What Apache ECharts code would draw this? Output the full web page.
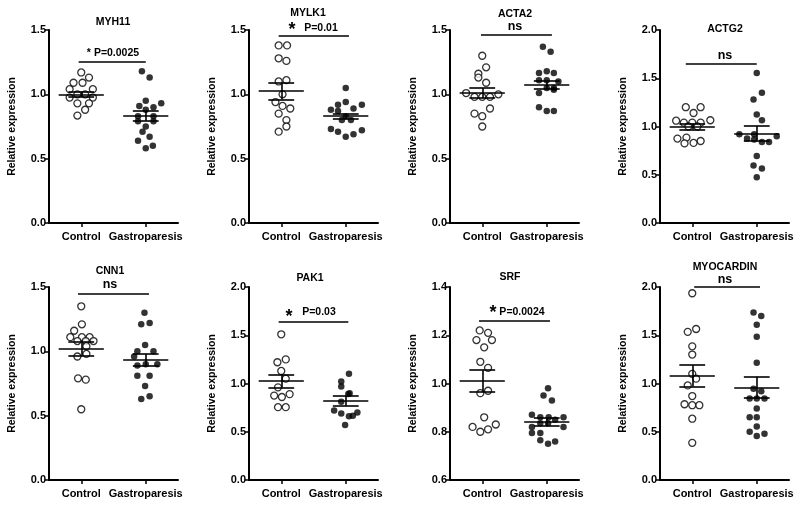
<!DOCTYPE html>
<html>
<head>
<meta charset="utf-8">
<title>Relative expression - Control vs Gastroparesis</title>
<style>
  html, body { margin: 0; padding: 0; background: #fff; }
  #main { width: 800px; height: 505px; }
</style>
</head>
<body>
<div id="main"></div>
<script src="https://cdn.jsdelivr.net/npm/echarts@6/dist/echarts.min.js"></script>
<script>
var groups = ['Control', 'Gastroparesis'];
var genes = ['MYH11', 'MYLK1', 'ACTA2', 'ACTG2', 'CNN1', 'PAK1', 'SRF', 'MYOCARDIN'];
var yMin = [0, 0, 0, 0, 0, 0, 0.6, 0];
var yMax = [1.5, 1.5, 1.5, 2, 1.5, 2, 1.4, 2];
var yStep = [0.5, 0.5, 0.5, 0.5, 0.5, 0.5, 0.2, 0.5];

// points: [jitter around the group, relative expression]
var myh11Ctrl = [[0,1.17],[0.12,1.13],[-0.12,1.09],[0.02,1.09],[-0.18,1.04],[0.18,1.04],[-0.06,1.0],[0.06,1.0],[-0.18,0.975],[0.18,0.975],[-0.06,0.93],[0.12,0.93],[0.06,0.88],[-0.06,0.835]];
var myh11Gast = [[-0.06,1.18],[0.06,1.13],[0,0.95],[-0.1,0.91],[0.24,0.93],[0.12,0.9],[0,0.88],[-0.12,0.83],[0.12,0.83],[-0.12,0.79],[0.12,0.79],[0,0.75],[-0.05,0.71],[0.06,0.67],[-0.12,0.64],[0.11,0.6],[0,0.58]];
var mylk1Ctrl = [[-0.04,1.38],[0.09,1.38],[-0.04,1.28],[0.08,1.26],[-0.04,1.1],[0.08,1.11],[0.02,1.0],[-0.09,0.94],[0.02,0.91],[0.14,0.89],[-0.04,0.85],[0.08,0.8],[0.08,0.75],[-0.04,0.71]];
var mylk1Gast = [[0,1.05],[-0.12,0.92],[0,0.94],[0.25,0.92],[-0.23,0.88],[-0.12,0.87],[0.12,0.89],[0,0.83],[-0.06,0.8],[0.08,0.8],[-0.23,0.73],[-0.12,0.71],[0.25,0.72],[0,0.67],[0.12,0.69]];
var acta2Ctrl = [[0,1.3],[0.06,1.21],[-0.06,1.16],[-0.06,1.13],[0.06,1.09],[-0.25,1.01],[-0.12,0.98],[0,0.98],[0.12,0.98],[0.25,1.0],[0.12,0.89],[-0.12,0.85],[0,0.83],[0,0.75]];
var acta2Gast = [[-0.06,1.37],[0.06,1.33],[0,1.18],[0.11,1.165],[-0.12,1.165],[-0.12,1.11],[0,1.11],[0.18,1.1],[0,1.05],[0.11,1.05],[-0.12,1.01],[0.11,1.035],[-0.12,0.9],[0,0.87],[0.11,0.87]];
var actg2Ctrl = [[-0.1,1.2],[0.13,1.2],[0.02,1.14],[-0.25,1.06],[-0.13,1.04],[0,1.04],[0.13,1.04],[0.28,1.065],[-0.06,1.0],[0.08,1.0],[-0.23,0.875],[-0.09,0.885],[0.13,0.85],[-0.12,0.825],[0.02,0.83]];
var actg2Gast = [[0,1.555],[0.08,1.35],[-0.05,1.28],[0,1.125],[0.08,1.065],[-0.27,0.92],[-0.04,0.92],[0.31,0.9],[-0.15,0.875],[-0.04,0.865],[0.08,0.84],[0.19,0.84],[0,0.695],[-0.05,0.595],[0.08,0.565],[0,0.475]];
var cnn1Ctrl = [[0,1.35],[0.01,1.21],[-0.11,1.16],[-0.17,1.11],[0.01,1.11],[0.13,1.11],[-0.06,1.08],[0.07,1.08],[0.19,1.08],[0.08,1.04],[-0.06,0.96],[0.08,0.98],[-0.05,0.79],[0.07,0.78],[0,0.55]];
var cnn1Gast = [[-0.02,1.3],[-0.07,1.21],[0.06,1.22],[-0.01,1.05],[-0.13,1.0],[0.12,1.0],[-0.18,0.96],[-0.13,0.89],[0,0.9],[0.18,0.9],[-0.13,0.81],[0.06,0.81],[-0.01,0.73],[-0.07,0.63],[0.06,0.65]];
var pak1Ctrl = [[0,1.51],[-0.06,1.22],[0.07,1.25],[0,1.13],[0.07,1.05],[-0.05,0.96],[-0.11,0.875],[0.01,0.86],[0.13,0.89],[-0.05,0.755],[0.07,0.755]];
var pak1Gast = [[0.05,1.1],[-0.07,1.02],[-0.07,0.97],[0.06,0.9],[0.04,0.89],[-0.07,0.81],[-0.18,0.72],[-0.07,0.69],[0.05,0.66],[0.11,0.665],[0.18,0.7],[-0.01,0.57]];
var srfCtrl = [[-0.04,1.22],[0.09,1.21],[-0.09,1.18],[0.15,1.18],[0.03,1.15],[-0.03,1.09],[0.09,1.065],[-0.03,0.96],[0.09,0.97],[0.03,0.86],[-0.15,0.82],[-0.03,0.8],[0.09,0.81],[0.21,0.83]];
var srfGast = [[0.02,0.98],[-0.05,0.95],[0.08,0.93],[-0.23,0.87],[-0.1,0.86],[0.03,0.86],[0.26,0.86],[0.13,0.85],[-0.23,0.82],[-0.1,0.835],[0.02,0.835],[0.26,0.82],[-0.23,0.795],[-0.1,0.795],[-0.1,0.765],[0.02,0.75],[0.13,0.76]];
var myocdCtrl = [[0,1.935],[-0.07,1.535],[0.06,1.565],[0,1.385],[0,1.3],[0,1.1],[0.06,1.05],[-0.07,0.98],[0,0.87],[-0.12,0.785],[0,0.775],[0.11,0.775],[0,0.635],[0,0.385]];
var myocdGast = [[-0.05,1.735],[0.07,1.7],[0,1.61],[0,1.485],[0,1.215],[-0.05,0.945],[0.07,0.92],[-0.11,0.845],[0,0.845],[0.12,0.845],[0,0.74],[-0.11,0.65],[0,0.65],[0,0.555],[-0.11,0.5],[0.12,0.48],[0,0.455]];

var ctrlPoints = [myh11Ctrl, mylk1Ctrl, acta2Ctrl, actg2Ctrl, cnn1Ctrl, pak1Ctrl, srfCtrl, myocdCtrl];
var gastPoints = [myh11Gast, mylk1Gast, acta2Gast, actg2Gast, cnn1Gast, pak1Gast, srfGast, myocdGast];

// mean +/- SEM
var ctrlMean = [1.0, 1.025, 1.01, 1.0, 1.02, 1.025, 1.01, 1.08];
var ctrlSem = [0.02, 0.064, 0.04, 0.03, 0.055, 0.07, 0.045, 0.11];
var gastMean = [0.835, 0.83, 1.075, 0.93, 0.935, 0.82, 0.84, 0.96];
var gastSem = [0.04, 0.022, 0.03, 0.075, 0.045, 0.05, 0.017, 0.11];

// significance bar
var sigLevel = [1.25, 1.455, 1.46, 1.65, 1.445, 1.64, 1.26, 2.0];
var sigFrom = [0.96, 0.96, 0.98, 0.9, 0.95, 0.96, 0.95, 1.03];
var sigTo = [2.0, 2.05, 2.08, 2.0, 2.05, 2.04, 2.05, 2.05];
var sigStar = ['', '*', '', '', '', '*', '*', ''];
var sigLabel = ['* P=0.0025', 'P=0.01', 'ns', 'ns', 'ns', 'P=0.03', 'P=0.0024', 'ns'];

// layout (pixels)
var gridLeft = [49, 249, 450, 660, 49, 249, 450, 660];
var gridTop = [30, 30, 30, 30, 287, 287, 287, 287];
var titlePos = [[113, 22], [308, 13], [515, 14], [725, 29], [110, 271], [310, 278], [510, 277], [725, 267]];
var starPos = [null, [292, 30], null, null, null, [289, 317], [493, 313]];
var labelPos = [[113, 53], [321, 28], [515, 27], [725, 56], [110, 285], [319, 312], [522, 312], [725, 280]];

var FONT = 'Liberation Sans, Arial, sans-serif';
var black = '#000';

var chart = echarts.init(document.getElementById('main'));
var grids = [], xAxes = [], yAxes = [], series = [], texts = [];

function meanSem(g, m, s) {
  return [
    [{ coord: [g - 0.35, m] }, { coord: [g + 0.35, m] }],
    [{ coord: [g - 0.2, m + s] }, { coord: [g + 0.2, m + s] }],
    [{ coord: [g - 0.2, m - s] }, { coord: [g + 0.2, m - s] }],
    [{ coord: [g, m - s] }, { coord: [g, m + s] }]
  ];
}

function markLines(lines, width) {
  return {
    silent: true,
    symbol: ['none', 'none'],
    label: { show: false },
    lineStyle: { color: black, width: width, type: 'solid' },
    emphasis: { disabled: true },
    animation: false,
    data: lines
  };
}

genes.forEach(function (gene, i) {
  grids.push({ left: gridLeft[i], top: gridTop[i], width: 129, height: 193 });
  xAxes.push({
    type: 'value', gridIndex: i, min: 0.5, max: 2.5,
    axisLine: { show: true, onZero: false, lineStyle: { color: black, width: 2 } },
    axisTick: { show: true, length: 4, customValues: [1, 2], lineStyle: { color: black, width: 1.5 } },
    axisLabel: {
      customValues: [1, 2], margin: 8, color: black, fontFamily: FONT, fontWeight: 'bold', fontSize: 11,
      formatter: function (v) { return groups[Math.round(v) - 1]; }
    },
    splitLine: { show: false }
  });
  yAxes.push({
    type: 'value', gridIndex: i, min: yMin[i], max: yMax[i], interval: yStep[i],
    name: 'Relative expression', nameLocation: 'middle', nameGap: 31,
    nameTextStyle: { color: black, fontFamily: FONT, fontWeight: 'bold', fontSize: 10.5 },
    axisLine: { show: true, onZero: false, lineStyle: { color: black, width: 2 } },
    axisTick: { show: true, length: 4, lineStyle: { color: black, width: 1.5 } },
    axisLabel: {
      margin: 3, color: black, fontFamily: FONT, fontWeight: 'bold', fontSize: 11,
      formatter: function (v) { return v.toFixed(1); }
    },
    splitLine: { show: false }
  });

  series.push({
    type: 'scatter', xAxisIndex: i, yAxisIndex: i, name: gene + ' ' + groups[0],
    symbol: 'circle', symbolSize: 7,
    itemStyle: { color: '#fff', borderColor: black, borderWidth: 1.3 },
    data: ctrlPoints[i].map(function (p) { return [1 + p[0], p[1]]; }),
    markLine: markLines(meanSem(1, ctrlMean[i], ctrlSem[i]).concat([
      [{ coord: [sigFrom[i], sigLevel[i]] }, { coord: [sigTo[i], sigLevel[i]] }]
    ]), 1.6)
  });
  series.push({
    type: 'scatter', xAxisIndex: i, yAxisIndex: i, name: gene + ' ' + groups[1],
    symbol: 'circle', symbolSize: 6.5,
    itemStyle: { color: black },
    data: gastPoints[i].map(function (p) { return [2 + p[0], p[1]]; }),
    markLine: markLines(meanSem(2, gastMean[i], gastSem[i]), 1.6)
  });

  texts.push({
    type: 'text', x: titlePos[i][0], y: titlePos[i][1],
    style: { text: gene, fill: black, font: 'bold 10.5px ' + FONT, textAlign: 'center', textVerticalAlign: 'middle' }
  });
  if (sigStar[i]) {
    texts.push({
      type: 'text', x: starPos[i][0], y: starPos[i][1],
      style: { text: sigStar[i], fill: black, font: 'bold 18px ' + FONT, textAlign: 'center', textVerticalAlign: 'middle' }
    });
  }
  texts.push({
    type: 'text', x: labelPos[i][0], y: labelPos[i][1],
    style: {
      text: sigLabel[i], fill: black,
      font: 'bold ' + (sigLabel[i] === 'ns' ? 12.5 : 10.5) + 'px ' + FONT,
      textAlign: 'center', textVerticalAlign: 'middle'
    }
  });
});

chart.setOption({
  backgroundColor: '#fff',
  animation: false,
  grid: grids,
  xAxis: xAxes,
  yAxis: yAxes,
  series: series,
  graphic: texts
});
</script>
</body>
</html>
